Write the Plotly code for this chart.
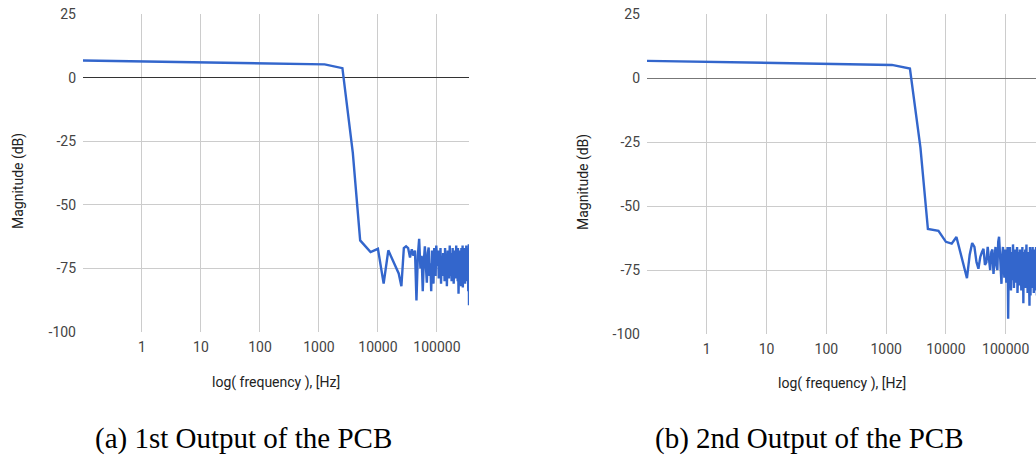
import plotly.graph_objects as go

# ---------------- data ----------------
freq_head = [0.1, 1250, 2500, 3750]
freq_tail = list(range(5000, 350001, 2500))  # measurement grid, 2.5 kHz steps
freq = freq_head + freq_tail

out1_head = [6.7, 5.2, 3.7, -29.5]
out1_tail = [
    -64, -68.6, -67.3, -81, -67.9, -71.5, -74, -77, -82, -67,
    -66.3, -67, -70.7, -67.5, -70, -68, -87.6, -70, -63.4, -75,
    -70, -84, -72, -66.3, -74, -80.6, -69, -66.8, -78, -73,
    -84, -68, -75, -81, -67, -72, -78, -66, -74,
    -74, -68, -79, -71, -76, -67, -81, -72, -70, -78,
    -69, -75, -73, -80, -67, -74, -77, -70, -82, -71,
    -68, -76, -73, -79, -70, -66, -75, -78, -72, -69,
    -80, -71, -74, -67, -77, -73, -81, -70, -68, -76,
    -72, -79, -69, -74, -66, -78, -71, -75, -73, -80,
    -67, -76, -85, -70, -72, -68, -79, -74, -71, -77,
    -69, -75, -82, -67, -73, -78, -70, -76, -66, -82.5,
    -72, -74, -68, -80, -71, -77, -67, -75, -73, -81,
    -70, -76, -68, -79, -72, -66, -78, -74, -71, -77,
    -69, -80, -73, -67, -76, -84, -70, -75, -65.5, -89.5,
]
out1 = out1_head + out1_tail

out2_head = [6.7, 5.1, 3.7, -27.2]
out2_tail = [
    -59, -59.7, -64, -64.7, -62.1, -68.6, -73.2, -78.2, -69, -64.5,
    -66, -72, -74.5, -70, -68, -66.7, -73, -72, -66, -70,
    -75, -68, -67, -76.5, -70, -66, -73, -75, -64, -62,
    -68, -74, -80.4, -70, -66, -72, -78, -67, -71, -80,
    -73, -66, -94,
    -70, -81, -66, -76, -83, -68, -73, -79, -65, -75,
    -82, -69, -74, -67, -80, -72, -77, -66, -84, -71,
    -75, -68, -81, -73, -67, -79, -70, -76, -83, -69,
    -74, -66, -78, -72, -88, -68, -75, -80, -70, -73,
    -67, -82, -71, -76, -65, -79, -74, -69, -84, -72,
    -77, -80, -68, -75, -80, -89, -73, -66, -78, -85,
    -71, -76, -67, -82, -73, -69, -79, -74, -66, -81,
    -72, -77, -68, -84, -70, -75, -80, -67, -73, -78,
    -69, -83, -71, -76, -66, -79, -74, -70, -85, -68,
    -75, -81, -72, -67, -77, -73,
]
out2 = out2_head + out2_tail

x_tick_vals = [1, 10, 100, 1000, 10000, 100000]
x_tick_text = ["1", "10", "100", "1000", "10000", "100000"]
y_tick_vals = [-100, -75, -50, -25, 0, 25]
y_tick_text = ["-100", "-75", "-50", "-25", "0", "25"]

y_title = "Magnitude (dB)"
x_title = "log( frequency ), [Hz]"
captions = ["(a) 1st Output of the PCB", "(b) 2nd Output of the PCB"]

# ---------------- layout helpers ----------------
W, H = 1036, 457


def px(x):
    return x / W


def py(y):
    return 1 - y / H


LINE_COLOR = "#3366cc"
FONT = "Roboto, Arial, sans-serif"

fig = go.Figure()
fig.add_trace(go.Scatter(x=freq, y=out1, mode="lines", xaxis="x", yaxis="y",
                         line=dict(color=LINE_COLOR, width=2.4), showlegend=False,
                         hoverinfo="skip"))
fig.add_trace(go.Scatter(x=freq, y=out2, mode="lines", xaxis="x2", yaxis="y2",
                         line=dict(color=LINE_COLOR, width=2.4), showlegend=False,
                         hoverinfo="skip"))

common_x = dict(type="log", tickvals=x_tick_vals, ticktext=x_tick_text,
                showgrid=True, gridcolor="#cccccc", gridwidth=1, showline=False,
                zeroline=False, ticks="", ticklabelstandoff=5, automargin=False,
                tickfont=dict(family=FONT, size=14, color="#444444"))
common_y = dict(range=[-100, 25], tickvals=y_tick_vals, ticktext=y_tick_text,
                showgrid=True, gridcolor="#cccccc", gridwidth=1, showline=False,
                zeroline=True, zerolinewidth=1, ticks="", ticklabelstandoff=6,
                automargin=False,
                tickfont=dict(family=FONT, size=14, color="#444444"))

fig.update_layout(
    width=W, height=H, autosize=False,
    margin=dict(l=0, r=0, t=0, b=0, pad=0),
    paper_bgcolor="white", plot_bgcolor="white",
    xaxis=dict(common_x, domain=[px(83), px(469)], range=[-1, 5.544], anchor="y"),
    yaxis=dict(common_y, domain=[py(332), py(14)], anchor="x", zerolinecolor="#333333"),
    xaxis2=dict(common_x, domain=[px(647), 1.0], range=[-1, 5.507], anchor="y2"),
    yaxis2=dict(common_y, domain=[py(334), py(14)], anchor="x2", zerolinecolor="#777777"),
)

ann = []
for cx, cy in [(18, 181), (583, 182)]:
    ann.append(dict(text=y_title, x=px(cx), y=py(cy), xref="paper", yref="paper",
                    showarrow=False, textangle=-90, xanchor="center", yanchor="middle",
                    font=dict(family=FONT, size=14, color="#222222")))
for cx, cy in [(276, 382), (842, 383)]:
    ann.append(dict(text=x_title, x=px(cx), y=py(cy), xref="paper", yref="paper",
                    showarrow=False, xanchor="center", yanchor="middle",
                    font=dict(family=FONT, size=14, color="#222222")))
for cap, cx in zip(captions, [243, 809]):
    ann.append(dict(text=cap, x=px(cx), y=py(438), xref="paper", yref="paper",
                    showarrow=False, xanchor="center", yanchor="middle",
                    font=dict(family="Liberation Serif, serif", size=29, color="#000000")))
fig.update_layout(annotations=ann)

post = (
    "document.body.style.margin='0';"
    "document.body.style.padding='0';"
    "document.body.style.overflow='hidden';"
    "document.documentElement.style.overflow='hidden';"
)
fig.write_html("out.html", post_script=post,
               config={"responsive": False, "displayModeBar": False, "staticPlot": True})
